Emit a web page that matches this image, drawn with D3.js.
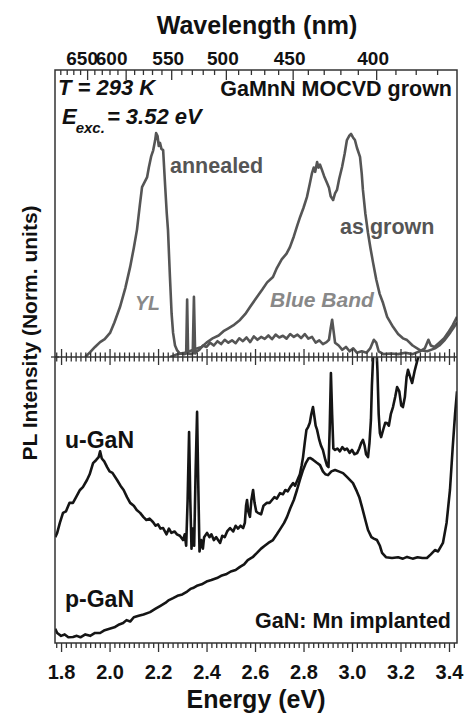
<!DOCTYPE html>
<html>
<head>
<meta charset="utf-8">
<script src="https://cdn.jsdelivr.net/npm/d3@7"></script>
<style>
  body { margin: 0; background: #fff; }
  svg text { font-family: "Liberation Sans", Arial, sans-serif; font-weight: bold; }
</style>
</head>
<body>
<svg id="chart" width="469" height="713"></svg>
<script>
// energy axis (eV) and wavelength labels (nm)
var energyDomain = [1.775, 3.433];
var energyTicks = [1.8, 2.0, 2.2, 2.4, 2.6, 2.8, 3.0, 3.2, 3.4];
var wavelengthMajor = [650, 600, 550, 500, 450, 400];
var wavelengthMinor = [690, 680, 670, 660, 640, 630, 620, 610, 590, 580, 570, 560, 540, 530, 520, 510,
                       490, 480, 470, 460, 440, 430, 420, 410, 390, 380, 370];

// top panel: GaMnN MOCVD grown (normalized)
var annealedE = [1.90, 1.92, 1.94, 1.961, 1.98, 2.002, 2.02, 2.043, 2.065, 2.085, 2.10, 2.113, 2.125, 2.134, 2.145,
  2.155, 2.162, 2.172, 2.180, 2.188, 2.192, 2.198, 2.203, 2.208, 2.214, 2.221, 2.229, 2.236, 2.241, 2.249, 2.256,
  2.262, 2.270, 2.278, 2.29, 2.31, 2.316, 2.320, 2.324, 2.338, 2.343, 2.348, 2.353, 2.36, 2.37, 2.385, 2.40, 2.415,
  2.43, 2.445, 2.46, 2.475, 2.49, 2.505, 2.52, 2.535, 2.55, 2.565, 2.58, 2.595, 2.61, 2.625, 2.64, 2.655, 2.67,
  2.685, 2.70, 2.715, 2.73, 2.745, 2.76, 2.775, 2.79, 2.805, 2.82, 2.835, 2.85, 2.865, 2.88, 2.895, 2.905, 2.912,
  2.918, 2.924, 2.93, 2.945, 2.96, 2.975, 2.99, 3.005, 3.02, 3.04, 3.06, 3.075, 3.09, 3.10, 3.11, 3.13, 3.16, 3.19,
  3.22, 3.25, 3.28, 3.30, 3.315, 3.325, 3.34, 3.36, 3.38, 3.40, 3.415, 3.433];
var annealedI = [0.0, 0.017, 0.035, 0.052, 0.062, 0.084, 0.12, 0.174, 0.24, 0.314, 0.38, 0.443, 0.53, 0.592, 0.61,
  0.627, 0.66, 0.70, 0.72, 0.755, 0.78, 0.77, 0.735, 0.746, 0.725, 0.721, 0.60, 0.50, 0.443, 0.28, 0.15,
  0.084, 0.04, 0.024, 0.012, 0.01, 0.012, 0.20, 0.012, 0.01, 0.012, 0.21, 0.012, 0.02, 0.025, 0.04, 0.035, 0.05,
  0.04, 0.055, 0.045, 0.06, 0.05, 0.058, 0.048, 0.065, 0.055, 0.068, 0.052, 0.072, 0.06, 0.07, 0.063, 0.075, 0.062,
  0.078, 0.068, 0.074, 0.064, 0.08, 0.07, 0.078, 0.066, 0.08, 0.064, 0.07, 0.05, 0.058, 0.045, 0.052, 0.06, 0.10,
  0.13, 0.09, 0.05, 0.04, 0.025, 0.035, 0.02, 0.03, 0.015, 0.02, 0.015, 0.03, 0.06, 0.05, 0.02, 0.01, 0.012, 0.01,
  0.015, 0.01, 0.02, 0.03, 0.06, 0.04, 0.035, 0.05, 0.065, 0.09, 0.11, 0.14];

var asGrownE = [2.25, 2.28, 2.31, 2.33, 2.36, 2.38, 2.40, 2.427, 2.45, 2.47, 2.49, 2.51, 2.538, 2.56, 2.58, 2.608,
  2.63, 2.65, 2.674, 2.69, 2.71, 2.73, 2.744, 2.76, 2.775, 2.786, 2.80, 2.814, 2.825, 2.835, 2.842, 2.848, 2.856,
  2.862, 2.868, 2.876, 2.885, 2.897, 2.905, 2.912, 2.922, 2.93, 2.938, 2.947, 2.959, 2.97, 2.979, 2.988, 2.996,
  3.004, 3.012, 3.02, 3.033, 3.04, 3.045, 3.055, 3.066, 3.076, 3.087, 3.10, 3.114, 3.128, 3.145, 3.169, 3.19,
  3.21, 3.227, 3.25, 3.28, 3.31, 3.342, 3.36, 3.383, 3.405, 3.433];
var asGrownI = [0.0, 0.01, 0.015, 0.02, 0.03, 0.035, 0.05, 0.066, 0.075, 0.09, 0.10, 0.11, 0.129, 0.15, 0.175, 0.209,
  0.235, 0.26, 0.279, 0.31, 0.34, 0.36, 0.383, 0.42, 0.46, 0.488, 0.52, 0.557, 0.60, 0.641, 0.66, 0.645, 0.679,
  0.66, 0.67, 0.652, 0.63, 0.606, 0.59, 0.56, 0.547, 0.57, 0.582, 0.62, 0.662, 0.71, 0.756, 0.77, 0.777,
  0.765, 0.756, 0.73, 0.697, 0.64, 0.582, 0.50, 0.432, 0.38, 0.328, 0.27, 0.22, 0.188, 0.14, 0.105, 0.08,
  0.065, 0.059, 0.04, 0.024, 0.02, 0.03, 0.04, 0.06, 0.085, 0.12];

// bottom panel: GaN:Mn implanted (normalized)
var uGaNE = [1.776, 1.784, 1.795, 1.808, 1.82, 1.835, 1.849, 1.862, 1.878, 1.89, 1.907, 1.918, 1.932, 1.945, 1.955,
  1.961, 1.968, 1.978, 1.990, 2.00, 2.012, 2.031, 2.045, 2.058, 2.072, 2.085, 2.10, 2.112, 2.126, 2.14, 2.152, 2.165,
  2.179, 2.19, 2.20, 2.21, 2.221, 2.235, 2.245, 2.255, 2.268, 2.278, 2.29, 2.303, 2.31, 2.316, 2.322, 2.328, 2.333,
  2.338, 2.343, 2.349, 2.355, 2.361, 2.366, 2.371, 2.378, 2.385, 2.39, 2.402, 2.412, 2.42, 2.43, 2.44, 2.456, 2.465,
  2.475, 2.485, 2.497, 2.51, 2.52, 2.53, 2.54, 2.551, 2.558, 2.563, 2.567, 2.572, 2.579, 2.585, 2.592, 2.598, 2.605,
  2.612, 2.625, 2.635, 2.649, 2.66, 2.67, 2.68, 2.69, 2.703, 2.715, 2.725, 2.735, 2.745, 2.757, 2.765, 2.775, 2.785,
  2.792, 2.798, 2.805, 2.812, 2.819, 2.826, 2.832, 2.839, 2.845, 2.850, 2.856, 2.865, 2.872, 2.880, 2.890, 2.897,
  2.903, 2.908, 2.913, 2.918, 2.923, 2.930, 2.94, 2.95, 2.96, 2.97, 2.979, 2.99, 3.00, 3.01, 3.021, 3.03, 3.038,
  3.045, 3.052, 3.058, 3.066, 3.072, 3.078, 3.082, 3.087, 3.092, 3.10, 3.105, 3.11, 3.115, 3.12, 3.13, 3.137, 3.144,
  3.152, 3.16, 3.169, 3.178, 3.186, 3.195, 3.203, 3.21, 3.218, 3.225, 3.231, 3.24, 3.248, 3.258, 3.27, 3.28, 3.30,
  3.33];
var uGaNI = [0.37, 0.385, 0.42, 0.455, 0.46, 0.49, 0.49, 0.51, 0.535, 0.545, 0.57, 0.59, 0.629, 0.64, 0.65,
  0.67, 0.645, 0.635, 0.615, 0.60, 0.595, 0.57, 0.55, 0.535, 0.51, 0.49, 0.48, 0.465, 0.455, 0.44, 0.43, 0.435,
  0.423, 0.41, 0.415, 0.40, 0.402, 0.38, 0.40, 0.385, 0.39, 0.38, 0.375, 0.36, 0.38, 0.34, 0.50, 0.738, 0.50,
  0.33, 0.40, 0.34, 0.60, 0.808, 0.55, 0.32, 0.36, 0.33, 0.37, 0.385, 0.37, 0.38, 0.36, 0.37, 0.35, 0.375,
  0.37, 0.39, 0.402, 0.39, 0.41, 0.40, 0.41, 0.402, 0.42, 0.48, 0.50, 0.46, 0.441, 0.50, 0.535, 0.49, 0.46,
  0.455, 0.45, 0.48, 0.49, 0.49, 0.50, 0.51, 0.505, 0.524, 0.52, 0.535, 0.53, 0.545, 0.559, 0.55, 0.57, 0.59,
  0.62, 0.65, 0.70, 0.745, 0.755, 0.77, 0.80, 0.825, 0.79, 0.76, 0.745, 0.71, 0.69, 0.675, 0.64, 0.62,
  0.615, 0.75, 0.944, 0.80, 0.68, 0.675, 0.68, 0.67, 0.685, 0.675, 0.68, 0.665, 0.675, 0.66, 0.664, 0.68, 0.70,
  0.71, 0.69, 0.66, 0.65, 0.70, 0.78, 0.90, 1.0, 1.05, 1.05, 0.95, 0.80, 0.734, 0.72, 0.75, 0.77, 0.769,
  0.76, 0.80, 0.825, 0.86, 0.895, 0.88, 0.83, 0.825, 0.86, 0.93, 0.955, 0.93, 0.909, 0.95, 0.99, 1.02, 1.08,
  1.15];

var pGaNE = [1.776, 1.784, 1.80, 1.815, 1.83, 1.849, 1.865, 1.88, 1.90, 1.92, 1.94, 1.961, 1.98, 2.00, 2.02, 2.04,
  2.056, 2.07, 2.085, 2.10, 2.12, 2.14, 2.167, 2.19, 2.21, 2.23, 2.245, 2.262, 2.28, 2.30, 2.32, 2.335, 2.344, 2.36,
  2.38, 2.40, 2.42, 2.443, 2.46, 2.48, 2.50, 2.52, 2.538, 2.555, 2.57, 2.59, 2.608, 2.625, 2.64, 2.655, 2.674, 2.69,
  2.705, 2.72, 2.732, 2.745, 2.76, 2.773, 2.785, 2.798, 2.81, 2.82, 2.827, 2.84, 2.855, 2.868, 2.88, 2.89, 2.901,
  2.915, 2.93, 2.945, 2.963, 2.98, 3.004, 3.02, 3.03, 3.041, 3.055, 3.066, 3.08, 3.09, 3.103, 3.115, 3.124, 3.14,
  3.165, 3.19, 3.21, 3.227, 3.25, 3.27, 3.29, 3.309, 3.325, 3.342, 3.355, 3.375, 3.39, 3.404, 3.415, 3.425, 3.433];
var pGaNI = [0.05, 0.035, 0.025, 0.03, 0.02, 0.021, 0.025, 0.02, 0.03, 0.025, 0.035, 0.035, 0.045, 0.05, 0.055, 0.065,
  0.07, 0.08, 0.075, 0.09, 0.095, 0.10, 0.108, 0.12, 0.13, 0.14, 0.15, 0.157, 0.165, 0.17, 0.18, 0.19, 0.192, 0.20,
  0.205, 0.215, 0.22, 0.227, 0.235, 0.24, 0.25, 0.255, 0.266, 0.275, 0.29, 0.30, 0.315, 0.33, 0.34, 0.35, 0.36, 0.38,
  0.40, 0.42, 0.441, 0.47, 0.50, 0.535, 0.57, 0.605, 0.63, 0.645, 0.647, 0.64, 0.63, 0.622, 0.60, 0.59, 0.587,
  0.60, 0.605, 0.60, 0.594, 0.58, 0.559, 0.53, 0.51, 0.476, 0.43, 0.395, 0.37, 0.365, 0.36, 0.34, 0.315, 0.30,
  0.297, 0.30, 0.295, 0.301, 0.295, 0.30, 0.297, 0.297, 0.31, 0.325, 0.32, 0.35, 0.42, 0.535, 0.68, 0.80, 0.88];

var svg = d3.select("#chart");
var plotLeft = 55, plotRight = 457, plotTop = 70, plotMid = 357, plotBottom = 643;

var x = d3.scaleLinear().domain(energyDomain).range([plotLeft, plotRight]);
var yTop = d3.scaleLinear().domain([0, 1]).range([plotMid, plotTop]);
var yBot = d3.scaleLinear().domain([0, 1]).range([plotBottom, plotMid]);

var zip = function(es, is) { return es.map(function(e, i) { return [e, is[i]]; }); };

// clip each panel
var defs = svg.append("defs");
defs.append("clipPath").attr("id", "clipTop").append("rect")
    .attr("x", plotLeft).attr("y", plotTop).attr("width", plotRight - plotLeft).attr("height", plotMid - plotTop);
defs.append("clipPath").attr("id", "clipBot").append("rect")
    .attr("x", plotLeft).attr("y", plotMid).attr("width", plotRight - plotLeft).attr("height", plotBottom - plotMid);

var lineTop = d3.line().x(function(d) { return x(d[0]); }).y(function(d) { return yTop(d[1]); });
var lineBot = d3.line().x(function(d) { return x(d[0]); }).y(function(d) { return yBot(d[1]); });

var gTop = svg.append("g").attr("clip-path", "url(#clipTop)");
[zip(annealedE, annealedI), zip(asGrownE, asGrownI)].forEach(function(s) {
  gTop.append("path").datum(s).attr("d", lineTop)
      .attr("fill", "none").attr("stroke", "#555").attr("stroke-width", 2.6).attr("stroke-linejoin", "round");
});
var gBot = svg.append("g").attr("clip-path", "url(#clipBot)");
[zip(uGaNE, uGaNI), zip(pGaNE, pGaNI)].forEach(function(s) {
  gBot.append("path").datum(s).attr("d", lineBot)
      .attr("fill", "none").attr("stroke", "#151515").attr("stroke-width", 2.6).attr("stroke-linejoin", "round");
});

// minor energy ticks every 0.02
var energyMinor = d3.range(1.78, 3.44, 0.02).filter(function(v) {
  return Math.abs(v * 5 - Math.round(v * 5)) > 0.01;
});

// bottom axis
svg.append("g").attr("class", "axis").attr("transform", "translate(0," + plotBottom + ")")
    .call(d3.axisBottom(x).tickValues(energyMinor).tickSize(5).tickFormat(""));
svg.append("g").attr("class", "axis labelled").attr("transform", "translate(0," + plotBottom + ")")
    .call(d3.axisBottom(x).tickValues(energyTicks).tickSize(9).tickPadding(13).tickFormat(d3.format(".1f")));

// middle axis, ticks on both sides
svg.append("g").attr("class", "axis").attr("transform", "translate(0," + (plotMid - 4.5) + ")")
    .call(d3.axisBottom(x).tickValues(energyMinor).tickSize(9).tickFormat(""));
svg.append("g").attr("class", "axis").attr("transform", "translate(0," + (plotMid - 8) + ")")
    .call(d3.axisBottom(x).tickValues(energyTicks).tickSize(16).tickFormat(""));

// top axis in wavelength
var toE = function(nm) { return 1239.84 / nm; };
svg.append("g").attr("class", "axis").attr("transform", "translate(0," + plotTop + ")")
    .call(d3.axisBottom(x).tickValues(wavelengthMinor.map(toE)).tickSize(5).tickFormat(""));
svg.append("g").attr("class", "axis").attr("transform", "translate(0," + plotTop + ")")
    .call(d3.axisBottom(x).tickValues(wavelengthMajor.map(toE)).tickSize(10).tickFormat(""));
var labelShift = { 650: -5, 600: -14 };
svg.append("g").selectAll("text").data(wavelengthMajor).join("text")
    .attr("x", function(d) { return x(toE(d)) + (labelShift[d] || -3); })
    .attr("y", 65)
    .attr("text-anchor", "middle").attr("font-size", 19).attr("fill", "#111")
    .text(function(d) { return d; });

svg.selectAll(".axis .domain").remove();
svg.selectAll(".axis line").attr("stroke", "#333").attr("stroke-width", 1.3);
svg.selectAll(".labelled text").attr("font-size", 20).attr("fill", "#111");

// frame and panel divider
svg.append("rect").attr("x", plotLeft).attr("y", plotTop)
    .attr("width", plotRight - plotLeft).attr("height", plotBottom - plotTop)
    .attr("fill", "none").attr("stroke", "#333").attr("stroke-width", 1.5);
svg.append("line").attr("x1", plotLeft).attr("x2", plotRight).attr("y1", plotMid).attr("y2", plotMid)
    .attr("stroke", "#333").attr("stroke-width", 1.5);
svg.append("line").attr("x1", plotLeft - 4).attr("x2", plotLeft + 4).attr("y1", plotMid).attr("y2", plotMid)
    .attr("stroke", "#333").attr("stroke-width", 1.3);

// axis titles
svg.append("text").attr("x", 257).attr("y", 34).attr("text-anchor", "middle")
    .attr("font-size", 25).attr("fill", "#111").text("Wavelength (nm)");
svg.append("text").attr("x", 256).attr("y", 708).attr("text-anchor", "middle")
    .attr("font-size", 25).attr("fill", "#111").text("Energy (eV)");
svg.append("text").attr("transform", "translate(37,333) rotate(-90)").attr("text-anchor", "middle")
    .attr("font-size", 21).attr("fill", "#111").text("PL Intensity (Norm. units)");

// annotations
var note = function(tx, ty, str, size, color, anchor, italic) {
  return svg.append("text").attr("x", tx).attr("y", ty).attr("font-size", size).attr("fill", color)
      .attr("text-anchor", anchor || "start").attr("font-style", italic ? "italic" : "normal").text(str);
};
note(58, 95, "T = 293 K", 22, "#111", "start", true);
note(452, 96, "GaMnN MOCVD grown", 21.5, "#111", "end");
var eexc = svg.append("text").attr("x", 62).attr("y", 124).attr("font-size", 22).attr("fill", "#111")
    .attr("font-style", "italic");
eexc.append("tspan").text("E");
eexc.append("tspan").attr("dx", -1).attr("dy", 9).attr("font-size", 15).text("exc.");
eexc.append("tspan").attr("dx", 2).attr("dy", -9).text("= 3.52 eV");

note(170, 173, "annealed", 21.5, "#555");
note(340, 234, "as grown", 21.5, "#555");
note(135, 310, "YL", 19.5, "#888", "start", true);
note(270, 307, "Blue Band", 21, "#888", "start", true);
note(65, 448, "u-GaN", 23, "#111");
note(65, 607, "p-GaN", 23, "#111");
note(451, 628, "GaN: Mn implanted", 21.5, "#111", "end");
</script>
</body>
</html>
